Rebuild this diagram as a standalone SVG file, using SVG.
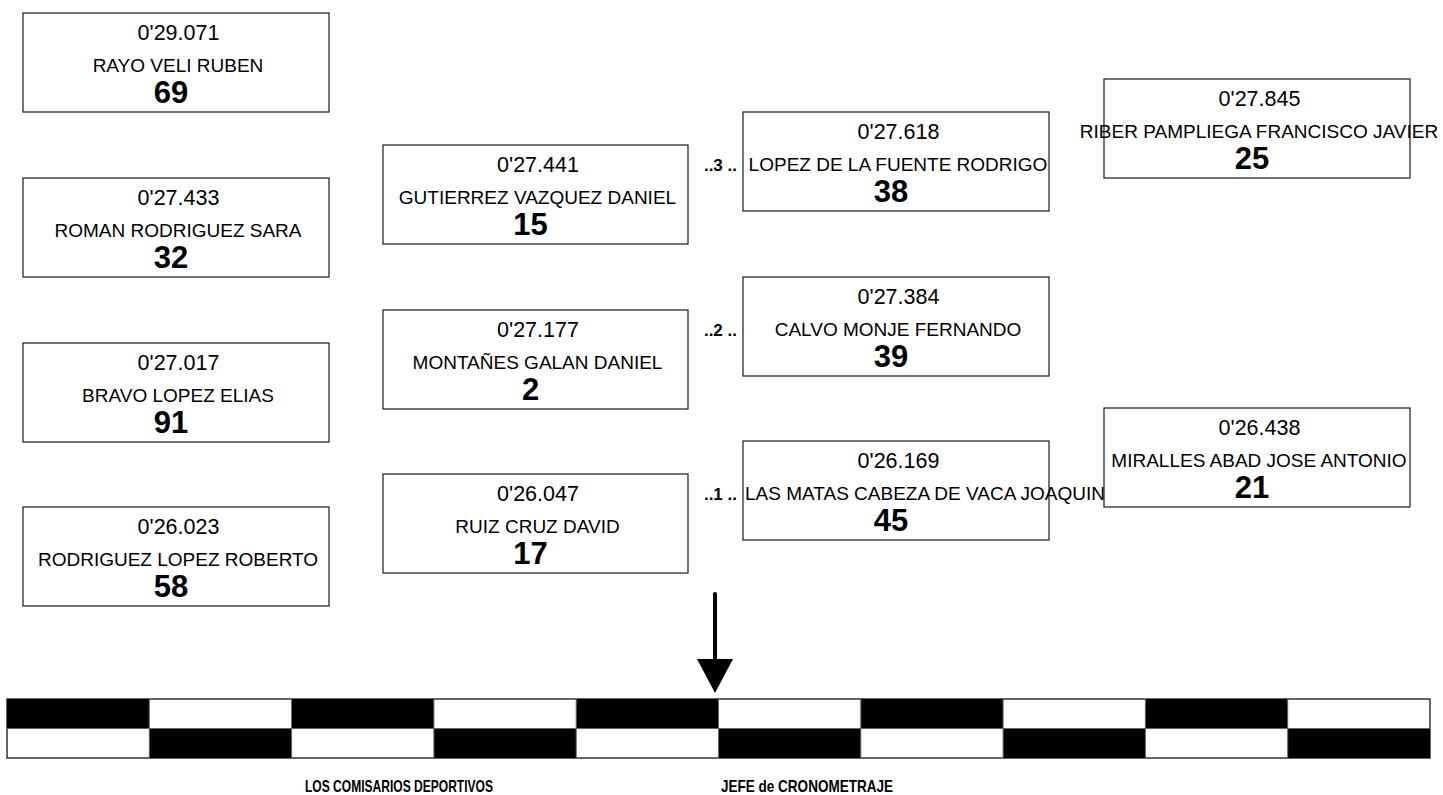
<svg xmlns="http://www.w3.org/2000/svg" width="1443" height="795" viewBox="0 0 1443 795">
<style>
.box{fill:#fff;stroke:#1a1a1a;stroke-width:1.2}
.t{font-family:"Liberation Sans",Arial,sans-serif;font-size:21.5px;fill:#000;text-anchor:middle}
.n{font-family:"Liberation Sans",Arial,sans-serif;font-size:19px;fill:#000;text-anchor:middle}
.b{font-family:"Liberation Sans",Arial,sans-serif;font-size:31px;font-weight:bold;fill:#000;text-anchor:middle}
.lbl{font-family:"Liberation Sans",Arial,sans-serif;font-size:17px;font-weight:bold;fill:#000;text-anchor:end}
.foot{font-family:"Liberation Sans",Arial,sans-serif;font-size:17px;font-weight:bold;fill:#000}
.blk{fill:#000}
</style>
<g id="n69"><rect class="box" x="23" y="13" width="306" height="99"/><text class="t" x="178.5" y="40">0'29.071</text><text class="n" x="178" y="72">RAYO VELI RUBEN</text><text class="b" x="171" y="103">69</text></g>
<g id="n32"><rect class="box" x="23" y="178" width="306" height="99"/><text class="t" x="178.5" y="205">0'27.433</text><text class="n" x="178" y="237">ROMAN RODRIGUEZ SARA</text><text class="b" x="171" y="268">32</text></g>
<g id="n91"><rect class="box" x="23" y="343" width="306" height="99"/><text class="t" x="178.5" y="370">0'27.017</text><text class="n" x="178" y="402">BRAVO LOPEZ ELIAS</text><text class="b" x="171" y="433">91</text></g>
<g id="n58"><rect class="box" x="23" y="507" width="306" height="99"/><text class="t" x="178.5" y="534">0'26.023</text><text class="n" x="178" y="566">RODRIGUEZ LOPEZ ROBERTO</text><text class="b" x="171" y="597">58</text></g>
<g id="n15"><rect class="box" x="383" y="145" width="305" height="99"/><text class="t" x="538" y="172">0'27.441</text><text class="n" x="537.5" y="204">GUTIERREZ VAZQUEZ DANIEL</text><text class="b" x="530.5" y="235">15</text></g>
<g id="n2"><rect class="box" x="383" y="310" width="305" height="99"/><text class="t" x="538" y="337">0'27.177</text><text class="n" x="537.5" y="369">MONTAÑES GALAN DANIEL</text><text class="b" x="530.5" y="400">2</text></g>
<g id="n17"><rect class="box" x="383" y="474" width="305" height="99"/><text class="t" x="538" y="501">0'26.047</text><text class="n" x="537.5" y="533">RUIZ CRUZ DAVID</text><text class="b" x="530.5" y="564">17</text></g>
<g id="n38"><rect class="box" x="743" y="112" width="306" height="99"/><text class="t" x="898.5" y="139">0'27.618</text><text class="lbl" x="737" y="171">..3 ..</text><text class="n" x="898" y="171">LOPEZ DE LA FUENTE RODRIGO</text><text class="b" x="891" y="202">38</text></g>
<g id="n39"><rect class="box" x="743" y="277" width="306" height="99"/><text class="t" x="898.5" y="304">0'27.384</text><text class="lbl" x="737" y="336">..2 ..</text><text class="n" x="898" y="336">CALVO MONJE FERNANDO</text><text class="b" x="891" y="367">39</text></g>
<g id="n45"><rect class="box" x="743" y="441" width="306" height="99"/><text class="t" x="898.5" y="468">0'26.169</text><text class="lbl" x="737" y="500">..1 ..</text><text class="n" x="745" y="500" style="text-anchor:start">LAS MATAS CABEZA DE VACA JOAQUIN</text><text class="b" x="891" y="531">45</text></g>
<g id="n25"><rect class="box" x="1104" y="79" width="306" height="99"/><text class="t" x="1259.5" y="106">0'27.845</text><text class="n" x="1259" y="138">RIBER PAMPLIEGA FRANCISCO JAVIER</text><text class="b" x="1252" y="169">25</text></g>
<g id="n21"><rect class="box" x="1104" y="408" width="306" height="99"/><text class="t" x="1259.5" y="435">0'26.438</text><text class="n" x="1259" y="467">MIRALLES ABAD JOSE ANTONIO</text><text class="b" x="1252" y="498">21</text></g>
<g id="connectors">
<line x1="715" y1="594" x2="715" y2="662" stroke="#000" stroke-width="4" stroke-linecap="round"/>
<path d="M697,659 L733,659 L715,693 Z" fill="#000"/>
</g>
<g id="flag">
<rect x="7" y="699" width="1423" height="59" fill="#fff" stroke="#000" stroke-width="1.2"/>
<rect class="blk" x="7" y="699" width="142.3" height="29.5"/>
<rect class="blk" x="291.6" y="699" width="142.3" height="29.5"/>
<rect class="blk" x="576.2" y="699" width="142.3" height="29.5"/>
<rect class="blk" x="860.8" y="699" width="142.3" height="29.5"/>
<rect class="blk" x="1145.4" y="699" width="142.3" height="29.5"/>
<rect class="blk" x="149.3" y="728.5" width="142.3" height="29.5"/>
<rect class="blk" x="433.9" y="728.5" width="142.3" height="29.5"/>
<rect class="blk" x="718.5" y="728.5" width="142.3" height="29.5"/>
<rect class="blk" x="1003.1" y="728.5" width="142.3" height="29.5"/>
<rect class="blk" x="1287.7" y="728.5" width="142.3" height="29.5"/>
<path d="M7,728.5 H1430 M149.3,699 V758 M291.6,699 V758 M433.9,699 V758 M576.2,699 V758 M718.5,699 V758 M860.8,699 V758 M1003.1,699 V758 M1145.4,699 V758 M1287.7,699 V758" stroke="#666" stroke-width="1" fill="none"/>
</g>
<text class="foot" x="305" y="792" textLength="188" lengthAdjust="spacingAndGlyphs">LOS COMISARIOS DEPORTIVOS</text>
<text class="foot" x="721" y="792" textLength="172" lengthAdjust="spacingAndGlyphs">JEFE de CRONOMETRAJE</text>
</svg>
